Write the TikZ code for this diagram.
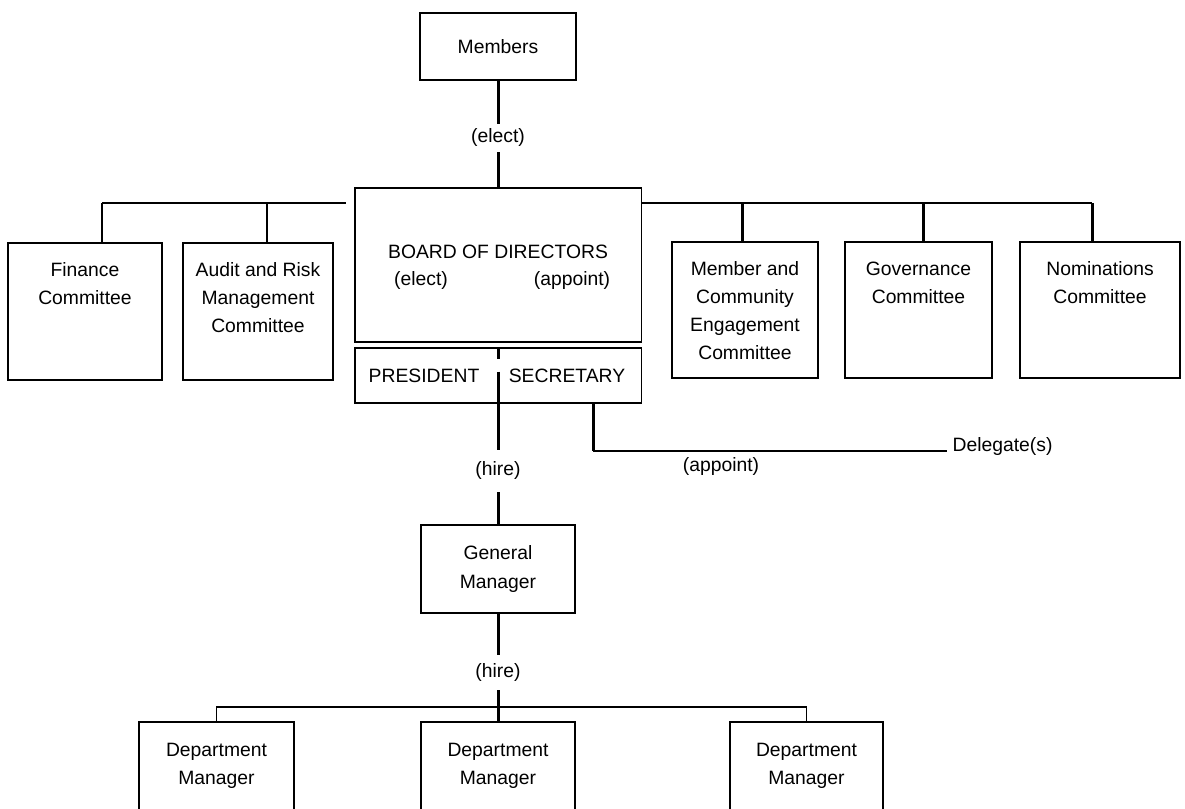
\documentclass[tikz,border=0pt]{standalone}
\usepackage{fontspec}
\setmainfont{Liberation Sans}
\usetikzlibrary{positioning}

\begin{document}
\begin{tikzpicture}[x=0.02cm, y=-0.02cm,
  box/.style={draw, black, line width=1.1pt, inner sep=0pt},
  txt/.style={align=center, font=\fontsize{11}{16}\selectfont, inner sep=1pt},
  link/.style={black, line width=1.7pt},
  bar/.style={black, line width=1.1pt},
  tag/.style={font=\fontsize{11}{16}\selectfont, fill=white, inner xsep=2pt, inner ysep=3pt}]
\useasboundingbox (0,0) rectangle (1185,808);
\clip (0,0) rectangle (1185,808);

\node[box, txt, minimum width=3.12cm, minimum height=1.34cm] (mem) at (498,46.5) {Members};

\node[box, minimum width=5.74cm, minimum height=3.08cm] (bod) at (498,265) {};
\node[txt] (bodtxt) at (498,252) {BOARD OF DIRECTORS};
\node[txt] (bodel) at (421,280) {(elect)};
\node[txt] (bodap) at (572,280) {(appoint)};

\node[box, minimum width=5.74cm, minimum height=1.1cm] (ps) at (498,375.5) {};
\node[txt] (pres) at (424,375.5) {PRESIDENT};
\node[txt] (sec) at (567,375.5) {SECRETARY};
\draw[link, dash pattern=on 7pt off 7pt on 20pt] (ps.north) -- (ps.south);

\node[box, minimum width=3.08cm, minimum height=2.74cm] (fin) at (85,311.5) {};
\node[box, minimum width=3.0cm, minimum height=2.74cm] (aud) at (258,311.5) {};
\node[box, minimum width=2.92cm, minimum height=2.72cm] (mce) at (745,310) {};
\node[box, minimum width=2.94cm, minimum height=2.72cm] (gov) at (918.5,310) {};
\node[box, minimum width=3.2cm, minimum height=2.72cm] (nom) at (1100,310) {};

\node[txt, below=0.37cm of fin.north] (fintxt) {Finance\\Committee};
\node[txt, below=0.37cm of aud.north] (audtxt) {Audit and Risk\\Management\\Committee};
\node[txt, below=0.37cm of mce.north] (mcetxt) {Member and\\Community\\Engagement\\Committee};
\node[txt, below=0.37cm of gov.north] (govtxt) {Governance\\Committee};
\node[txt, below=0.37cm of nom.north] (nomtxt) {Nominations\\Committee};

% committee bars
\coordinate (barL) at (102,203);
\coordinate (barA) at (267,203);
\coordinate (barM) at (742,203);
\coordinate (barG) at (923,203);
\coordinate (barR) at (1092,203);
\draw[bar, shorten <=0.16cm] (bod.west |- barL) -- (barL);
\draw[bar] (bod.east |- barR) -- (barR);
\draw[link] (barL) -- (barL |- fin.north);
\draw[link] (barA) -- (barA |- aud.north);
\draw[link] (barM) -- (barM |- mce.north);
\draw[link] (barG) -- (barG |- gov.north);
\draw[link] (barR) -- (barR |- nom.north);

\draw[link] (mem) -- (bod) node[tag, pos=0.537] (memel) {(elect)};

\node[box, txt, minimum width=3.08cm, minimum height=1.76cm] (gm) at (498,569) {General\\Manager};
\draw[link] (ps.south) -- (gm.north) node[tag, inner ysep=7pt, pos=0.557] (pshire) {(hire)};

% delegates
\node[txt, anchor=base west, inner sep=3pt] (del) at (947,451) {Delegate(s)};
\coordinate (secd) at (593,451);
\draw[link] (ps.south -| secd) -- (secd);
\draw[bar] (secd) -- (del.base west);
\node[txt] (delap) at (721,466) {(appoint)};

% departments
\node[box, txt, minimum width=3.1cm, minimum height=1.76cm] (dep1) at (216.5,766) {Department\\Manager};
\node[box, txt, minimum width=3.08cm, minimum height=1.76cm] (dep2) at (498,766) {Department\\Manager};
\node[box, txt, minimum width=3.06cm, minimum height=1.76cm] (dep3) at (806.5,766) {Department\\Manager};
\coordinate (dbar) at (498,707);
\draw[link] (gm.south) -- (dbar) node[tag, inner ysep=5pt, pos=0.628] (gmhire) {(hire)};
\draw[bar] (dep1.north) |- (dbar) -| (dep3.north);
\draw[link] (dbar) -- (dep2.north);

\end{tikzpicture}
\end{document}
